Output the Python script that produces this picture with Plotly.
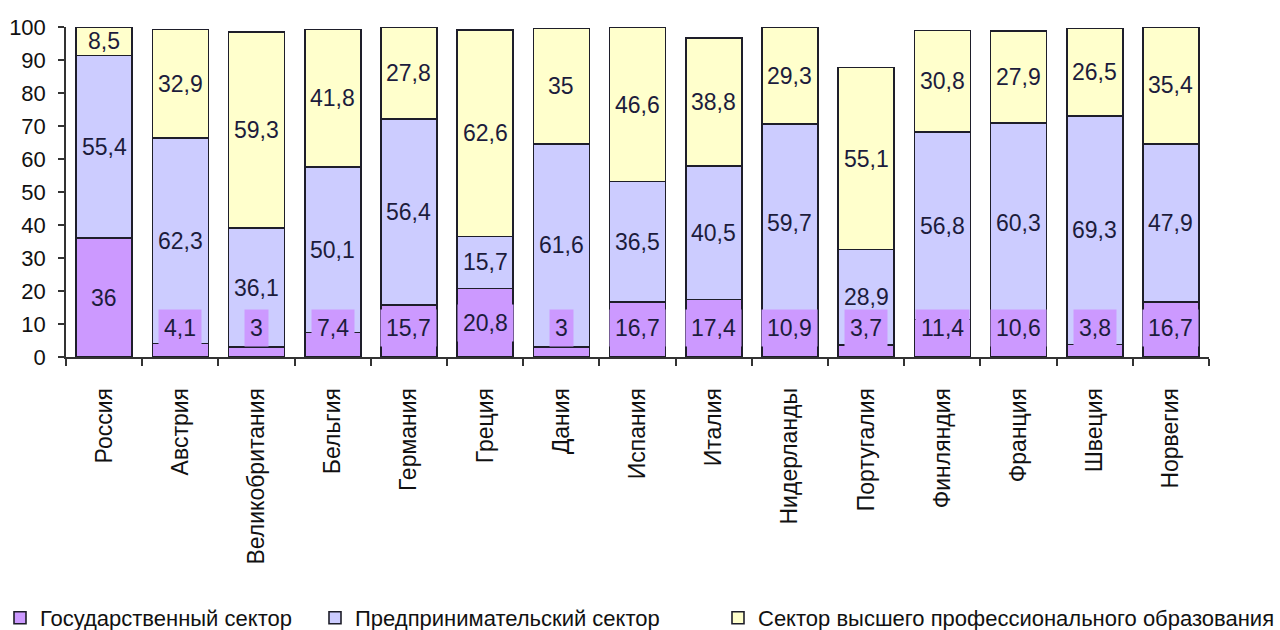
import plotly.graph_objects as go

# Страны (категории оси X)
countries = [
    "Россия", "Австрия", "Великобритания", "Бельгия", "Германия", "Греция",
    "Дания", "Испания", "Италия", "Нидерланды", "Португалия", "Финляндия",
    "Франция", "Швеция", "Норвегия",
]

# Доли секторов, %
state_sector = [36, 4.1, 3, 7.4, 15.7, 20.8, 3, 16.7, 17.4, 10.9, 3.7, 11.4, 10.6, 3.8, 16.7]
business_sector = [55.4, 62.3, 36.1, 50.1, 56.4, 15.7, 61.6, 36.5, 40.5, 59.7, 28.9, 56.8, 60.3, 69.3, 47.9]
higher_edu_sector = [8.5, 32.9, 59.3, 41.8, 27.8, 62.6, 35, 46.6, 38.8, 29.3, 55.1, 30.8, 27.9, 26.5, 35.4]

series_names = [
    "Государственный сектор",
    "Предпринимательский сектор",
    "Сектор высшего профессионального образования",
]

y_ticks = list(range(0, 101, 10))

FONT = "Liberation Sans, Arial, sans-serif"
COLORS = ["#cc99ff", "#ccccff", "#ffffcc"]
OUTLINE = "#1e1e2a"
LABEL_COLOR = "#1c1c3c"
LABEL_SIZE = 23
# minimal centre height (in axis units) for labels in thin segments
MIN_LABEL_Y = 8.7

W, H = 1280, 630
ML, MR, MT, MB = 66, 71, 27, 273


def fmt(v):
    return f"{v:g}".replace(".", ",")


fig = go.Figure()

series = [state_sector, business_sector, higher_edu_sector]
legend_ids = ["legend", "legend2", "legend3"]
for name, values, color, lg in zip(series_names, series, COLORS, legend_ids):
    fig.add_trace(go.Bar(
        x=countries,
        y=values,
        name=name,
        legend=lg,
        marker=dict(color=color, line=dict(color=OUTLINE, width=1.6)),
        hoverinfo="x+y+name",
    ))

annotations = []
for i, c in enumerate(countries):
    base = 0.0
    for k, values in enumerate(series):
        v = values[i]
        yc = base + v / 2
        ann = dict(
            x=c, y=yc, xref="x", yref="y",
            text=fmt(v), showarrow=False,
            font=dict(family=FONT, size=LABEL_SIZE, color=LABEL_COLOR),
        )
        if k == 0:
            ann["y"] = max(yc, MIN_LABEL_Y)
            ann["bgcolor"] = COLORS[0]
            ann["borderpad"] = 5
        annotations.append(ann)
        base += v

# legends are placed in container coordinates so they do not move the plot area
legend_font = dict(family=FONT, size=22, color="#111111")
common_legend = dict(orientation="h", xref="container", yref="container",
                     yanchor="middle", y=1 - 618 / H,
                     font=legend_font, itemclick=False, itemdoubleclick=False)

fig.update_layout(
    width=W,
    height=H,
    barmode="stack",
    bargap=0.265,
    plot_bgcolor="white",
    paper_bgcolor="white",
    margin=dict(l=ML, r=MR, t=MT, b=MB, autoexpand=False),
    font=dict(family=FONT, size=21, color="#111111"),
    annotations=annotations,
    showlegend=True,
    legend=dict(x=-21 / W, xanchor="left", **common_legend),
    legend2=dict(x=315 / W, xanchor="left", **common_legend),
    legend3=dict(x=1.0, xanchor="right", **common_legend),
    xaxis=dict(
        type="category",
        range=[-0.5, len(countries) - 0.5],
        tickangle=-90,
        ticks="outside",
        tickson="boundaries",
        ticklen=7,
        tickwidth=1.5,
        tickcolor="#333333",
        showline=True,
        linecolor="#333333",
        linewidth=1.5,
        showgrid=False,
        tickfont=dict(family=FONT, size=23, color="#111111"),
        ticklabelstandoff=20,
        automargin=False,
    ),
    yaxis=dict(
        range=[0, 100],
        tickvals=y_ticks,
        ticktext=[str(t) for t in y_ticks],
        ticks="outside",
        ticklen=6,
        tickwidth=1.5,
        tickcolor="#333333",
        showline=True,
        linecolor="#333333",
        linewidth=1.5,
        showgrid=False,
        zeroline=False,
        tickfont=dict(family=FONT, size=22, color="#111111"),
        ticklabelstandoff=8,
        automargin=False,
    ),
)

fig.write_html("out.html")
